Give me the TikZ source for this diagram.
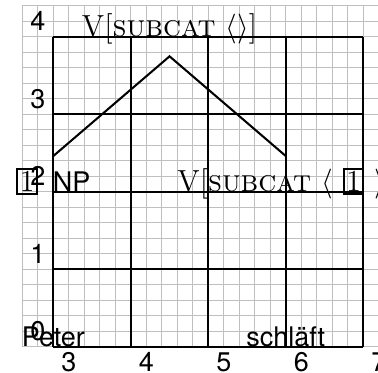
\documentclass[tikz,border=0pt]{standalone}
\usepackage{fontspec}
\setsansfont{TeX Gyre Heros}[Scale=0.885]
\usepackage{amsmath}
\setlength{\fboxrule}{0.75pt}
\setlength{\fboxsep}{0.5pt}
\newcommand{\tagbox}[1]{\fbox{#1}}

\begin{document}
\begin{tikzpicture}[
  font=\fontsize{11.2}{13.4}\selectfont,
  fine/.style={gray!50, line width=0.4pt},
  coarse/.style={black, line width=0.75pt},
  cat/.style={anchor=base, inner sep=4.2pt},
  word/.style={anchor=base, font=\fontsize{11.2}{13.4}\selectfont\sffamily},
  tick/.style={font=\fontsize{11.2}{13.4}\selectfont\sffamily, inner sep=0pt}]
\clip (-0.688,-0.339) rectangle (4.19,4.474);
% raster
\draw[fine, step=0.2] (-0.4,0) grid (4.2,4.4);
\draw[coarse, step=1] (0,0) grid (4,4);
\foreach \i in {0,...,4} {
  \pgfmathtruncatemacro{\lab}{\i+3}
  \node[tick] (xl\i) at (\i+0.2,-0.2) {\lab};
  \node[tick] (yl\i) at (-0.2,\i+0.2) {\i};
}
% tree
\node[cat] (root) at (1.5,4) {V[\textsc{subcat} $\langle\rangle$]};
\node[cat] (np) at (0,2) {\tagbox{1}\hspace{5.5pt}\sffamily NP};
\node[cat] (v) at (3,2) {V[\textsc{subcat} $\langle$ \tagbox{1} $\rangle$]};
\node[word] (peter) at (0,0) {Peter};
\node[word] (schlaeft) at (3,0) {schläft};
\draw[coarse] (np.north) -- (root.south) -- (v.north);
\end{tikzpicture}
\end{document}
